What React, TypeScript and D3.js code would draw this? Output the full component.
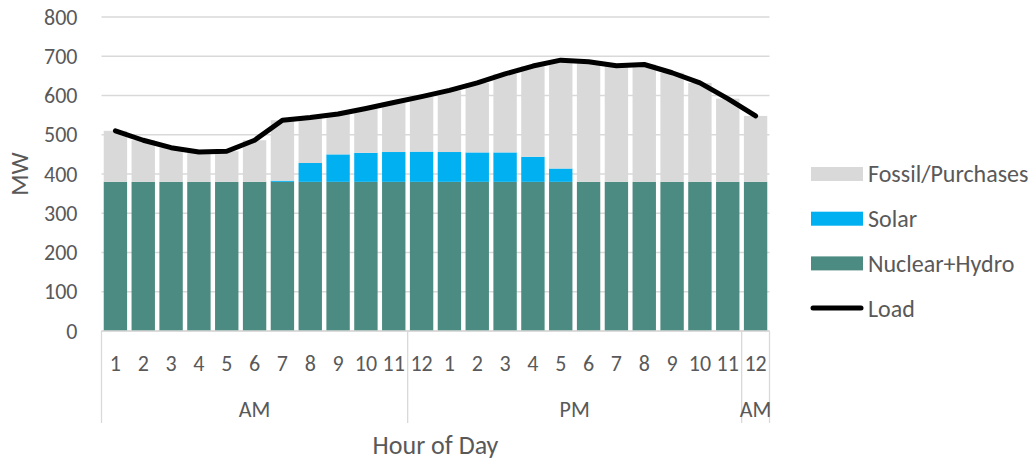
import React from "react";
import * as d3 from "d3";

// Hourly generation mix (MW) for one day, hour ending 1 AM .. 12 AM
const hours = ["1","2","3","4","5","6","7","8","9","10","11","12","1","2","3","4","5","6","7","8","9","10","11","12"];
const nuclearHydro = [380,380,380,380,380,380,380,380,380,380,380,380,380,380,380,380,380,380,380,380,380,380,380,380];
const solar = [0,0,0,0,0,0,3,48,70,74,76,77,76,75,75,64,34,0,0,0,0,0,0,0];
const fossilPurchases = [130,106,87,76,78,106,154,116,103,113,126,140,157,177,200,231,276,306,296,299,278,252,212,168];
const load = [510,486,467,456,458,486,537,544,553,567,582,597,613,632,655,675,690,686,676,679,658,632,592,548];
const yTicks = [0,100,200,300,400,500,600,700,800];
const periods = [
  { label: "AM", from: 0, to: 11 },
  { label: "PM", from: 11, to: 23 },
  { label: "AM", from: 23, to: 24 },
];

const seriesKeys = ["nuclear", "solar", "fossil"] as const;
const seriesColors: Record<string, string> = {
  fossil: "#d9d9d9",
  solar: "#00b0f0",
  nuclear: "#4c8b81",
};
const legendItems = [
  { label: "Fossil/Purchases", key: "fossil" },
  { label: "Solar", key: "solar" },
  { label: "Nuclear+Hydro", key: "nuclear" },
  { label: "Load", key: "load" },
];

const W = 1033;
const H = 462;
const plot = { left: 101.5, right: 769.5, top: 17, bottom: 331 };
const FONT = "Calibri, Carlito, Lato, sans-serif";
const TEXT = "#595959";
const GRID = "#d9d9d9";

export default function App() {
  const rows = hours.map((h, i) => ({
    i,
    nuclear: nuclearHydro[i],
    solar: solar[i],
    fossil: fossilPurchases[i],
  }));

  const x = d3
    .scaleBand<number>()
    .domain(rows.map((r) => r.i))
    .range([plot.left, plot.right])
    .paddingInner(0.16)
    .paddingOuter(0.08);
  const step = x.step();
  const slot = (i: number) => plot.left + i * step;
  const center = (i: number) => (x(i) as number) + x.bandwidth() / 2;

  const y = d3.scaleLinear().domain([0, 800]).range([plot.bottom, plot.top]);

  const stacked = d3.stack<any>().keys(seriesKeys as unknown as string[])(rows);

  const loadLine = d3
    .line<number>()
    .x((_, i) => center(i))
    .y((d) => y(d))(load) as string;

  const legendX = 811;
  const legendY0 = 174;
  const legendGap = 44.7;

  return (
    <svg
      width={W}
      height={H}
      style={{ position: "fixed", left: 0, top: 0, background: "#fff" }}
      fontFamily={FONT}
    >
      {/* horizontal gridlines */}
      {yTicks.map((t) => (
        <line key={"g" + t} x1={plot.left} x2={plot.right} y1={y(t)} y2={y(t)} stroke={GRID} strokeWidth={1.3} />
      ))}
      {/* y tick labels */}
      {yTicks.map((t) => (
        <text key={"yt" + t} x={77.5} y={y(t)} dy="0.35em" textAnchor="end" fontSize={22} fill={TEXT}>
          {t}
        </text>
      ))}
      <text
        transform={`translate(${19},${(plot.top + plot.bottom) / 2}) rotate(-90)`}
        textAnchor="middle"
        dy="0.35em"
        fontSize={25}
        fill={TEXT}
      >
        MW
      </text>

      {/* stacked bars */}
      {stacked.map((s) => (
        <g key={s.key} fill={seriesColors[s.key]}>
          {s.map((d, i) =>
            d[1] - d[0] > 0 ? (
              <rect key={i} x={x(i)} width={x.bandwidth()} y={y(d[1])} height={y(d[0]) - y(d[1])} />
            ) : null
          )}
        </g>
      ))}

      {/* load line */}
      <path d={loadLine} fill="none" stroke="#000" strokeWidth={5} strokeLinejoin="round" strokeLinecap="round" />

      {/* category axis */}
      <line x1={plot.left} x2={plot.right} y1={plot.bottom} y2={plot.bottom} stroke={GRID} strokeWidth={1.3} />
      {[0, 11, 23, 24].map((b) => (
        <line key={"d" + b} x1={slot(b)} x2={slot(b)} y1={plot.bottom} y2={423} stroke={GRID} strokeWidth={1.3} />
      ))}
      {hours.map((h, i) => (
        <text key={"h" + i} x={center(i)} y={363} dy="0.35em" textAnchor="middle" fontSize={22} fill={TEXT}>
          {h}
        </text>
      ))}
      {periods.map((p, k) => (
        <text
          key={"p" + k}
          x={(slot(p.from) + slot(p.to)) / 2}
          y={409}
          dy="0.35em"
          textAnchor="middle"
          fontSize={22}
          fill={TEXT}
        >
          {p.label}
        </text>
      ))}
      <text x={(plot.left + plot.right) / 2} y={445} dy="0.35em" textAnchor="middle" fontSize={26} fill={TEXT}>
        Hour of Day
      </text>

      {/* legend */}
      {legendItems.map((it, k) => {
        const cy = legendY0 + k * legendGap;
        return (
          <g key={it.key}>
            {it.key === "load" ? (
              <line x1={legendX + 2} x2={legendX + 50} y1={cy} y2={cy} stroke="#000" strokeWidth={5} strokeLinecap="round" />
            ) : (
              <rect x={legendX} y={cy - 7} width={52} height={14} fill={seriesColors[it.key]} />
            )}
            <text x={868} y={cy} dy="0.35em" fontSize={24} fill={TEXT}>
              {it.label}
            </text>
          </g>
        );
      })}
    </svg>
  );
}
